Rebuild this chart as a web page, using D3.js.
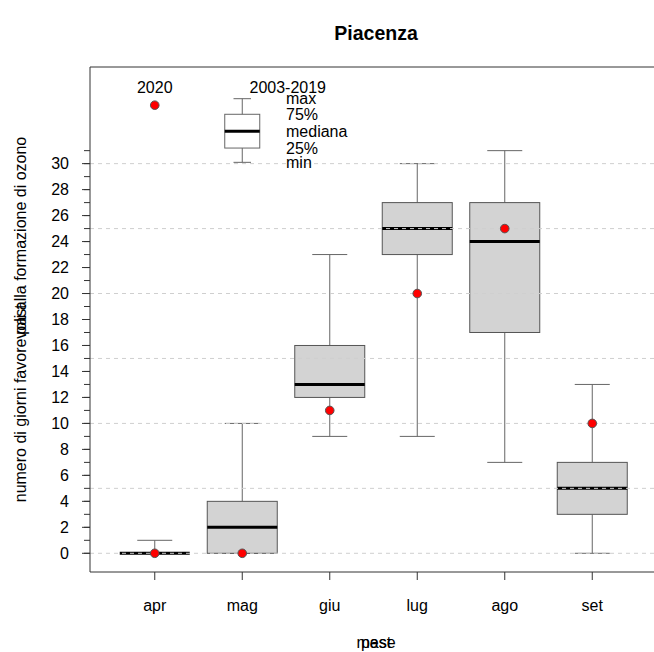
<!DOCTYPE html>
<html><head><meta charset="utf-8">
<script src="https://cdn.jsdelivr.net/npm/d3@7"></script>
<style>body{margin:0;background:#fff}svg{display:block}text{font-family:"Liberation Sans",Arial,sans-serif}</style>
</head><body>
<script>
const months = ["apr","mag","giu","lug","ago","set"];
const minV = [0, 0, 9, 9, 7, 0];
const q1V = [0, 0, 12, 23, 17, 3];
const medV = [0, 2, 13, 25, 24, 5];
const q3V = [0, 4, 16, 27, 27, 7];
const maxV = [1, 10, 23, 30, 31, 13];
const v2020 = [0, 0, 11, 20, 25, 10];
const yTickLabels = d3.range(0, 31, 2);
const yMinorTicks = d3.range(0, 32, 1);
const gridVals = [0, 5, 10, 15, 20, 25, 30];
// legend (drawn in data units at month "mag")
const legendBox = {min: 30.1, q1: 31.2, med: 32.5, q3: 33.8, max: 35.0};
const legendLabels = ["max","75%","mediana","25%","min"];
const legendDot = 34.5, legendTitleY = 35.9;

const W = 654, H = 652;
const L = 90, T = 67, B = 572;
const FS = 16;
const svg = d3.select("body").append("svg").attr("width", W).attr("height", H);

const x = d3.scaleLinear().domain([0.26, 6.74]).range([L, 657]);
const y = d3.scaleLinear().domain([-1.44, 37.44]).range([B, T]);
const boxW = x(1.8) - x(1);
const capW = boxW / 2;
const boxStroke = "#555", whisk = "#666";

const data = months.map((m, i) => ({m, i: i + 1, min: minV[i], q1: q1V[i], med: medV[i], q3: q3V[i], max: maxV[i], p: v2020[i]}));

const g = svg.append("g");
data.forEach(d => {
  const cx = x(d.i);
  g.append("line").attr("x1", cx).attr("x2", cx).attr("y1", y(d.max)).attr("y2", y(d.q3)).attr("stroke", whisk);
  g.append("line").attr("x1", cx).attr("x2", cx).attr("y1", y(d.q1)).attr("y2", y(d.min)).attr("stroke", whisk);
  g.append("line").attr("x1", cx - capW/2).attr("x2", cx + capW/2).attr("y1", y(d.max)).attr("y2", y(d.max)).attr("stroke", whisk);
  g.append("line").attr("x1", cx - capW/2).attr("x2", cx + capW/2).attr("y1", y(d.min)).attr("y2", y(d.min)).attr("stroke", whisk);
  g.append("rect").attr("x", cx - boxW/2).attr("y", y(d.q3)).attr("width", boxW)
    .attr("height", Math.max(0, y(d.q1) - y(d.q3))).attr("fill", "#d3d3d3").attr("stroke", boxStroke);
  g.append("line").attr("x1", cx - boxW/2).attr("x2", cx + boxW/2).attr("y1", y(d.med)).attr("y2", y(d.med))
    .attr("stroke", "#000").attr("stroke-width", 3);
});

// grid (drawn on top as in reference)
svg.append("g").selectAll("line").data(gridVals).join("line")
  .attr("x1", L).attr("x2", W).attr("y1", d => y(d)).attr("y2", d => y(d))
  .attr("stroke", "#cfcfcf").attr("stroke-dasharray", "4,4");

// 2020 points
svg.append("g").selectAll("circle").data(data).join("circle")
  .attr("cx", d => x(d.i)).attr("cy", d => y(d.p)).attr("r", 4.3)
  .attr("fill", "#ff0000").attr("stroke", "#555").attr("stroke-width", 1);

// legend
const lx = x(2);
const lcap = capW / 2;
svg.append("line").attr("x1", lx).attr("x2", lx).attr("y1", y(legendBox.max)).attr("y2", y(legendBox.min)).attr("stroke", whisk);
svg.append("line").attr("x1", lx - lcap/2).attr("x2", lx + lcap/2).attr("y1", y(legendBox.max)).attr("y2", y(legendBox.max)).attr("stroke", whisk);
svg.append("line").attr("x1", lx - lcap/2).attr("x2", lx + lcap/2).attr("y1", y(legendBox.min)).attr("y2", y(legendBox.min)).attr("stroke", whisk);
svg.append("rect").attr("x", lx - lcap).attr("y", y(legendBox.q3)).attr("width", lcap*2)
  .attr("height", y(legendBox.q1) - y(legendBox.q3)).attr("fill", "#fff").attr("stroke", whisk);
svg.append("line").attr("x1", lx - lcap).attr("x2", lx + lcap).attr("y1", y(legendBox.med)).attr("y2", y(legendBox.med)).attr("stroke", "#000").attr("stroke-width", 3);
const lVals = [legendBox.max, legendBox.q3, legendBox.med, legendBox.q1, legendBox.min];
svg.append("g").selectAll("text").data(legendLabels).join("text")
  .attr("x", x(2.5)).attr("y", (d, i) => y(lVals[i])).attr("dy", "0.35em")
  .attr("font-size", FS).attr("fill", "#000").text(d => d);
svg.append("text").attr("x", x(2.52)).attr("y", y(legendTitleY)).attr("dy", "0.35em").attr("text-anchor", "middle").attr("font-size", FS).text("2003-2019");
svg.append("text").attr("x", x(1)).attr("y", y(legendTitleY)).attr("dy", "0.35em").attr("text-anchor", "middle").attr("font-size", FS).text("2020");
svg.append("circle").attr("cx", x(1)).attr("cy", y(legendDot)).attr("r", 4.3).attr("fill", "#ff0000").attr("stroke", "#555");

// frame
svg.append("path").attr("d", `M${W},${T}H${L}V${B}H${W}`).attr("fill", "none").attr("stroke", "#333");

// y axis
const ya = svg.append("g");
ya.selectAll("line.minor").data(yMinorTicks).join("line")
  .attr("x1", L - 6).attr("x2", L).attr("y1", d => y(d)).attr("y2", d => y(d)).attr("stroke", "#333");
ya.selectAll("line.major").data(yTickLabels).join("line")
  .attr("x1", L - 8).attr("x2", L).attr("y1", d => y(d)).attr("y2", d => y(d)).attr("stroke", "#333");
ya.selectAll("text").data(yTickLabels).join("text")
  .attr("x", 69).attr("y", d => y(d)).attr("dy", "0.35em").attr("text-anchor", "end")
  .attr("font-size", FS).text(d => d);

// x axis
const xa = svg.append("g");
xa.selectAll("line").data(data).join("line")
  .attr("x1", d => x(d.i)).attr("x2", d => x(d.i)).attr("y1", B).attr("y2", B + 8).attr("stroke", "#333");
xa.selectAll("text").data(data).join("text")
  .attr("x", d => x(d.i)).attr("y", 605).attr("dy", "0.35em").attr("text-anchor", "middle")
  .attr("font-size", FS).text(d => d.m);

// titles
svg.append("text").attr("x", 376).attr("y", 33).attr("dy", "0.35em").attr("text-anchor", "middle")
  .attr("font-size", 19.5).attr("font-weight", "bold").text("Piacenza");
const cy = (T + B) / 2;
["mese", "past"].forEach(t => svg.append("text").attr("x", 376).attr("y", 642).attr("dy", "0.35em")
  .attr("text-anchor", "middle").attr("font-size", FS).text(t));
["numero di giorni favorevoli alla formazione di ozono", "past"].forEach(t => svg.append("text")
  .attr("transform", `translate(20,${cy}) rotate(-90)`).attr("dy", "0.35em")
  .attr("text-anchor", "middle").attr("font-size", FS).text(t));
</script>
</body></html>
